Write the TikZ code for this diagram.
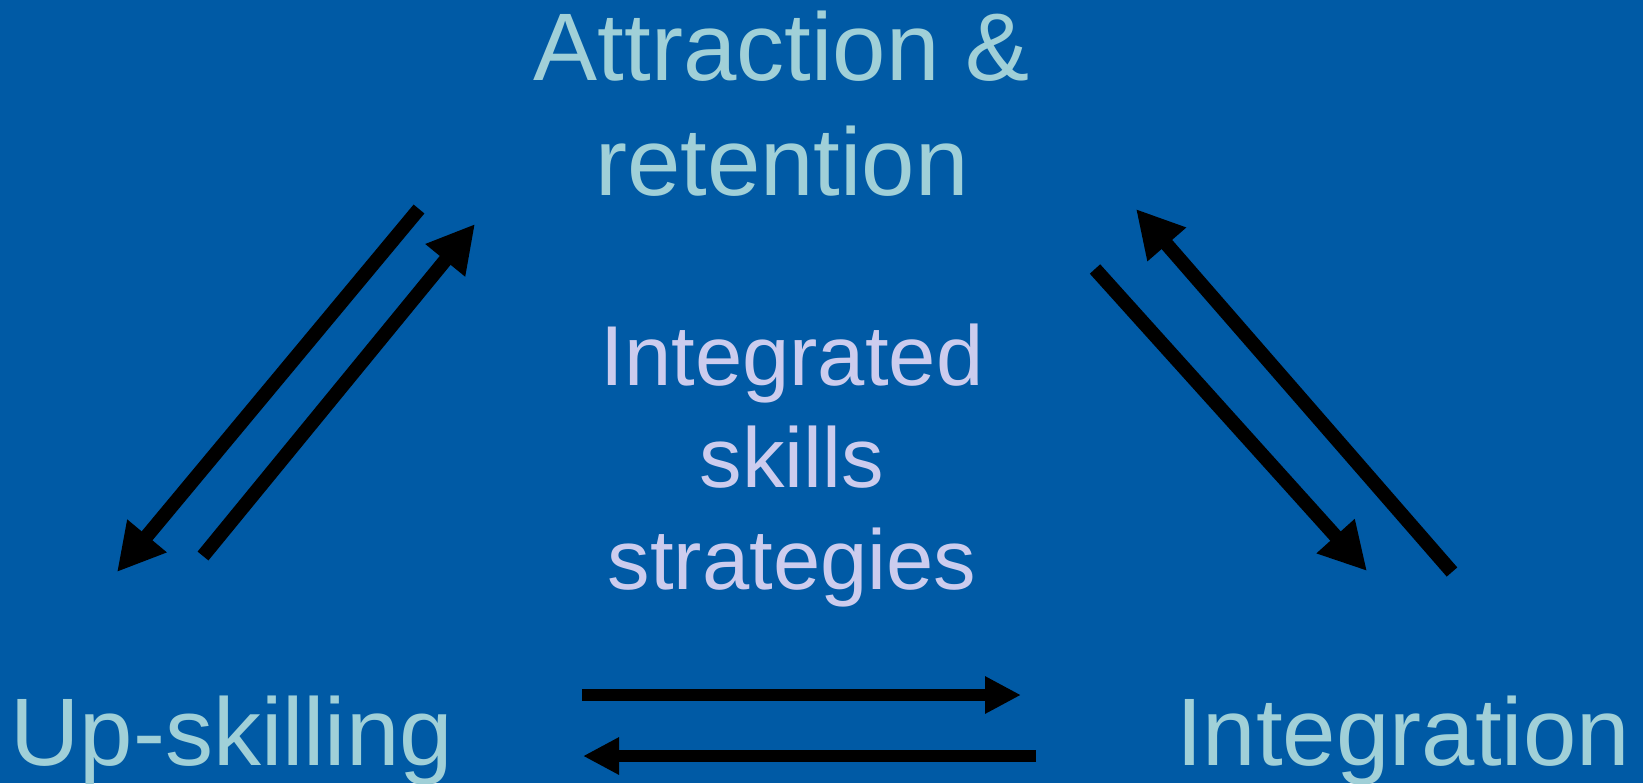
\documentclass[tikz,border=0pt]{standalone}
\usepackage{fontspec}
\setmainfont{Liberation Sans}
\usetikzlibrary{arrows.meta}
\definecolor{slideblue}{RGB}{0,90,165}
\definecolor{pale}{RGB}{160,208,216}
\definecolor{lilac}{RGB}{204,204,238}

\begin{document}
\begin{tikzpicture}[x=0.5pt,y=-0.5pt]
	\tikzstyle{corner}=[inner sep=0pt,anchor=base,align=center,text=pale,font=\fontsize{48}{57.5}\selectfont]
	\tikzstyle{hub}=[inner sep=0pt,anchor=base,align=center,text=lilac,font=\fontsize{42.5}{51}\selectfont]
	\tikzstyle{slant}=[line width=7pt,-{Triangle[length=23.5pt,width=24pt]}]
	\tikzstyle{flat}=[line width=6pt,-{Triangle[length=18pt,width=17.5pt]}]
	\fill[slideblue] (0,0) rectangle (1643,783);
	\useasboundingbox (0,0) rectangle (1643,783);
		% base of a two/three line node sits on its last line
		\node[corner] (attr) at (782,195) {Attraction \&\\retention};
		\node[corner,anchor=base west] (up) at (10,765) {Up-skilling};
		\node[corner] (integ) at (1403,765) {Integration};
		\node[hub] (iss) at (792,589) {Integrated\\skills\\strategies};
		\coordinate (l1) at (419,209);
		\coordinate (l2) at (117,572);
		\coordinate (l3) at (203,556);
		\coordinate (l4) at (475,224);
		\coordinate (r1) at (1095,269);
		\coordinate (r2) at (1367,571);
		\coordinate (r3) at (1452,572);
		\coordinate (r4) at (1136,209);
		\coordinate (b1) at (582,695);
		\coordinate (b2) at (1021,695);
		\coordinate (b3) at (1036,756);
		\coordinate (b4) at (583,756);
			\draw[slant] (l1) -- (l2);
			\draw[slant] (l3) -- (l4);
			\draw[slant] (r1) -- (r2);
			\draw[slant] (r3) -- (r4);
			\draw[flat] (b1) -- (b2);
			\draw[flat] (b3) -- (b4);
\end{tikzpicture}
\end{document}
